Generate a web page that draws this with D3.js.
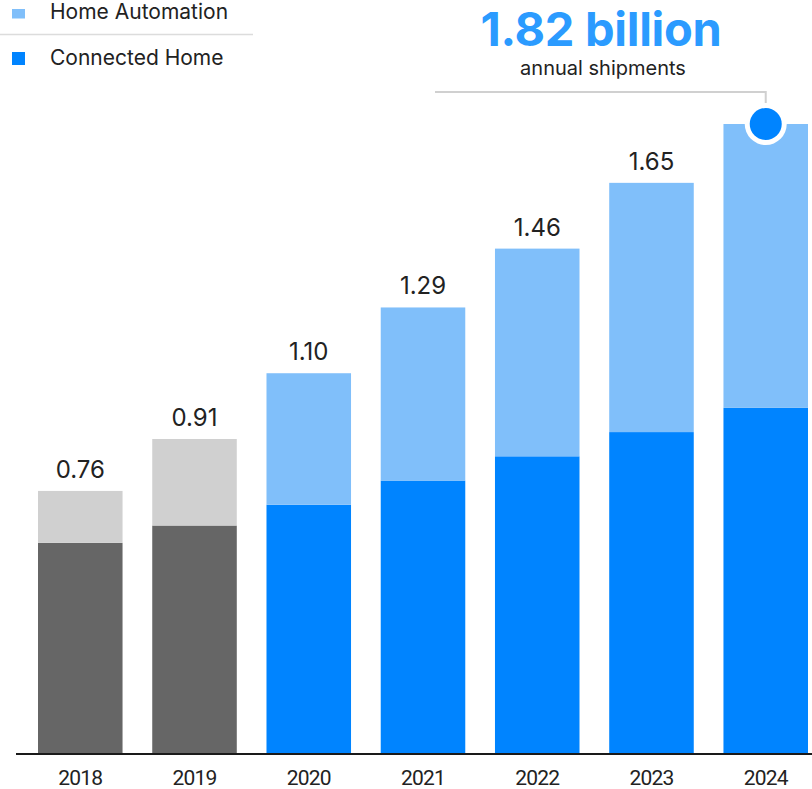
<!DOCTYPE html>
<html><head><meta charset="utf-8">
<script src="https://cdn.jsdelivr.net/npm/d3@7"></script>
<style>html,body{margin:0;padding:0;background:#fff;}svg{display:block;}</style>
</head><body>
<svg id="chart" width="812" height="789"></svg>
<script>
const years = ["2018","2019","2020","2021","2022","2023","2024"];
const connectedHome = [0.61, 0.66, 0.72, 0.79, 0.86, 0.93, 1.00];
const homeAutomation = [0.15, 0.25, 0.38, 0.50, 0.60, 0.72, 0.82];
const totals = ["0.76","0.91","1.10","1.29","1.46","1.65"];
const historicalYears = ["2018","2019"];
const headline = "1.82 billion";
const headlineSub = "annual shipments";
const legendItems = ["Home Automation","Connected Home"];

const svg = d3.select("#chart");
const font = "Inter, 'Open Sans', sans-serif";
const colors = {
  auto: "#80BFFA", conn: "#0084FF",
  autoHist: "#D0D0D0", connHist: "#666666"
};

const x = d3.scaleBand().domain(years).range([38, 808]).paddingInner(0.26).paddingOuter(0);
const y = d3.scaleLinear().domain([0, 1.82]).range([754, 124]);

const data = years.map((yr, i) => ({yr, c: connectedHome[i], a: homeAutomation[i], hist: historicalYears.includes(yr)}));

// bars
const g = svg.append("g");
g.selectAll("rect.conn").data(data).join("rect")
  .attr("x", d => x(d.yr)).attr("width", x.bandwidth())
  .attr("y", d => y(d.c)).attr("height", d => y(0) - y(d.c))
  .attr("fill", d => d.hist ? colors.connHist : colors.conn);
g.selectAll("rect.auto").data(data).join("rect")
  .attr("x", d => x(d.yr)).attr("width", x.bandwidth())
  .attr("y", d => y(d.c + d.a)).attr("height", d => y(d.c) - y(d.c + d.a))
  .attr("fill", d => d.hist ? colors.autoHist : colors.auto);

// value labels
g.selectAll("text.val").data(data.slice(0, totals.length)).join("text")
  .attr("x", d => x(d.yr) + x.bandwidth()/2)
  .attr("y", d => y(d.c + d.a) - 13)
  .attr("text-anchor", "middle")
  .attr("font-family", font).attr("font-size", 24).attr("fill", "#222")
  .text((d, i) => totals[i]);

// axis
const axis = svg.append("g").attr("transform", `translate(0,${y(0)})`)
  .call(d3.axisBottom(x).tickSize(0).tickPadding(16));
axis.select(".domain").remove();
axis.append("line").attr("x1", 16).attr("x2", 812).attr("y1", 0).attr("y2", 0)
  .attr("stroke", "#1a1a1a").attr("stroke-width", 2);
axis.selectAll(".tick text").attr("font-family", "Roboto, sans-serif")
  .attr("font-size", 21).attr("fill", "#222").attr("dy", "0.71em")
  .attr("letter-spacing", "-0.8");

// annotation
const last = data[data.length - 1];
const cx = x(last.yr) + x.bandwidth()/2;
const cy = y(last.c + last.a);
svg.append("path")
  .attr("d", `M435,92 H${cx} V${cy - 21}`)
  .attr("fill", "none").attr("stroke", "#d0d0d0").attr("stroke-width", 2);
svg.append("circle").attr("cx", cx).attr("cy", cy).attr("r", 21).attr("fill", "#fff");
svg.append("circle").attr("cx", cx).attr("cy", cy).attr("r", 16).attr("fill", colors.conn);

svg.append("text").attr("x", 601).attr("y", 46).attr("text-anchor", "middle")
  .attr("font-family", font).attr("font-weight", 700).attr("font-size", 47)
  .attr("letter-spacing", "-0.3")
  .attr("fill", "#2B9BFF").text(headline);
svg.append("text").attr("x", 603).attr("y", 75).attr("text-anchor", "middle")
  .attr("font-family", font).attr("font-size", 20).attr("fill", "#222")
  .text(headlineSub);

// legend
const leg = svg.append("g");
leg.append("rect").attr("x", 12).attr("y", 9).attr("width", 13).attr("height", 9.5).attr("fill", colors.auto);
leg.append("text").attr("x", 50).attr("y", 19).attr("font-family", font).attr("font-size", 21)
  .attr("fill", "#222").text(legendItems[0]);
leg.append("line").attr("x1", 0).attr("x2", 253).attr("y1", 34.5).attr("y2", 34.5)
  .attr("stroke", "#dcdcdc").attr("stroke-width", 1.5);
leg.append("rect").attr("x", 12).attr("y", 52).attr("width", 13).attr("height", 13).attr("fill", colors.conn);
leg.append("text").attr("x", 50).attr("y", 65).attr("font-family", font).attr("font-size", 21)
  .attr("fill", "#222").text(legendItems[1]);
</script>
</body></html>
